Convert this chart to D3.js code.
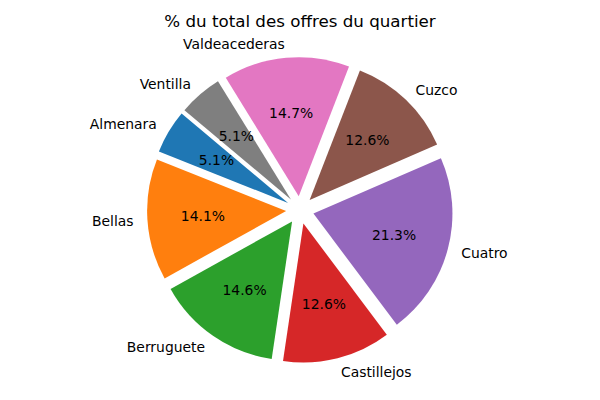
<!DOCTYPE html><html><head><meta charset="utf-8"><script src="https://cdn.jsdelivr.net/npm/d3@7"></script>
<style>body{margin:0;background:#fff}text{font-family:"DejaVu Sans",sans-serif}</style></head><body>
<svg id="c" width="600" height="400"></svg>
<script>
const labels=["Almenara","Bellas","Berruguete","Castillejos","Cuatro","Cuzco","Valdeacederas","Ventilla"];
const values=[5.1,14.1,14.6,12.6,21.3,12.6,14.7,5.1];
const colors=["#1f77b4","#ff7f0e","#2ca02c","#d62728","#9467bd","#8c564b","#e377c2","#7f7f7f"];
const title="% du total des offres du quartier";
const cx=300,cy=210,r=139,startDeg=140,explode=0.1;
const svg=d3.select("#c");
svg.append("text").attr("x",300).attr("y",27).attr("text-anchor","middle").attr("font-size",16.7).text(title);
const total=d3.sum(values);
const sc=d3.scaleLinear().domain([0,total]).range([startDeg,startDeg+360]);
let cum=0;
const arc=d3.arc().innerRadius(0).outerRadius(r);
values.forEach((v,i)=>{
  const a0=sc(cum),a1=sc(cum+v);cum+=v;
  const mid=(a0+a1)/2*Math.PI/180;
  const ox=cx+explode*r*Math.cos(mid),oy=cy-explode*r*Math.sin(mid);
  const s=(90-a1)*Math.PI/180,e=(90-a0)*Math.PI/180;
  svg.append("path").attr("transform",`translate(${ox},${oy})`).attr("d",arc({startAngle:s,endAngle:e})).attr("fill",colors[i]);
  const lx=ox+1.1*r*Math.cos(mid),ly=oy-1.1*r*Math.sin(mid);
  svg.append("text").attr("x",lx).attr("y",ly).attr("dy","0.35em").attr("font-size",13.9)
    .attr("text-anchor",Math.cos(mid)>0?"start":"end").text(labels[i]);
  const px=ox+0.6*r*Math.cos(mid),py=oy-0.6*r*Math.sin(mid);
  svg.append("text").attr("x",px).attr("y",py).attr("dy","0.35em").attr("font-size",13.9)
    .attr("text-anchor","middle").text(v.toFixed(1)+"%");
});
</script></body></html>
